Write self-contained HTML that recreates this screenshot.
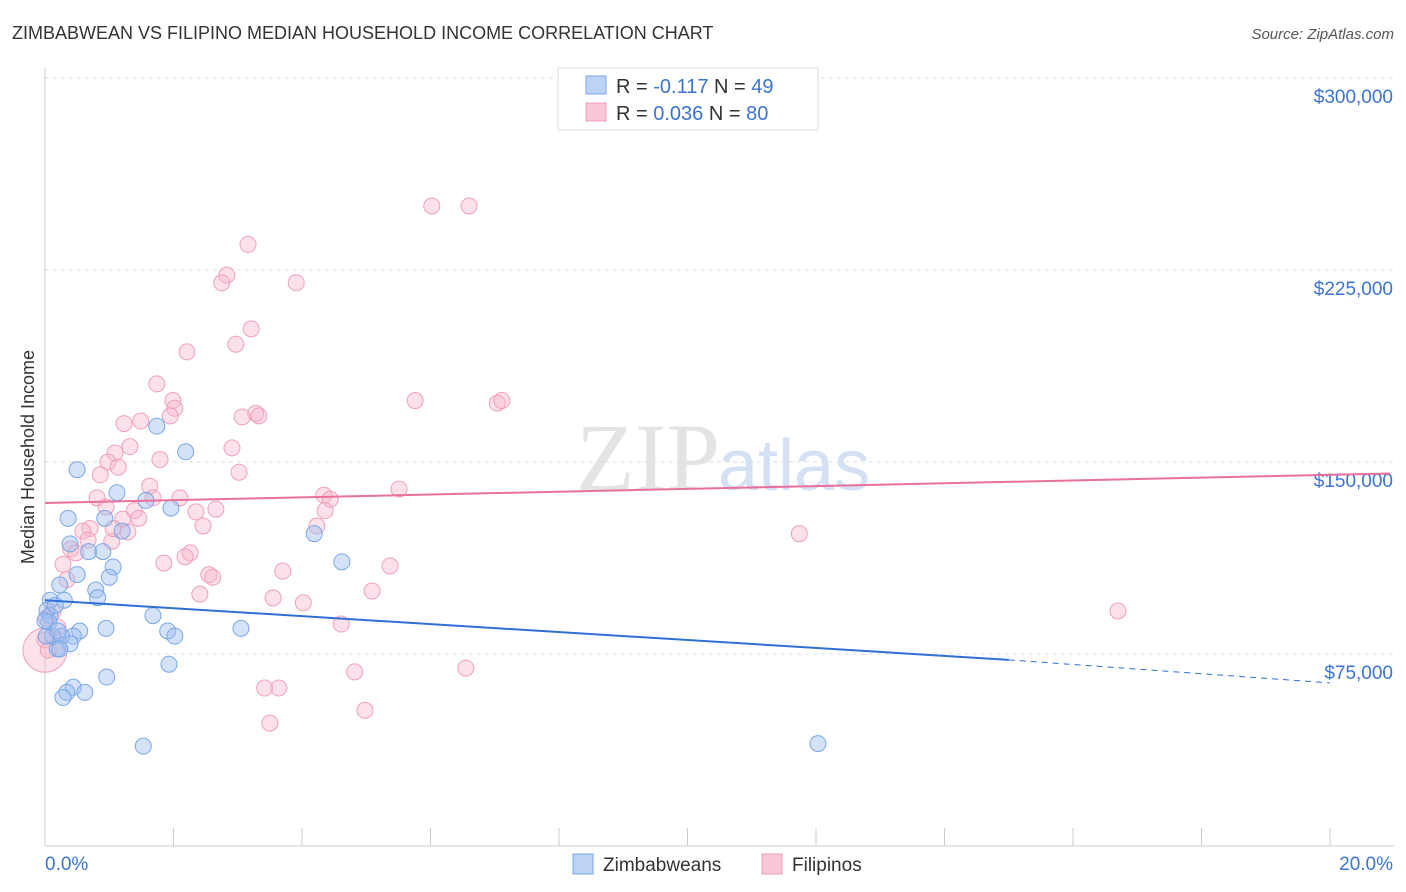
<!DOCTYPE html>
<html><head><meta charset="utf-8"><style>
body{margin:0;background:#fff;font-family:"Liberation Sans",sans-serif}
svg{display:block}
</style></head><body>
<svg id="chart" width="1406" height="892" xmlns="http://www.w3.org/2000/svg">
<text x="12" y="39" font-size="18" fill="#333">ZIMBABWEAN VS FILIPINO MEDIAN HOUSEHOLD INCOME CORRELATION CHART</text>
<text x="1394" y="39" font-size="15" fill="#555" font-style="italic" text-anchor="end">Source: ZipAtlas.com</text>
<text x="720" y="490" font-size="96" fill="#e4e4e4" text-anchor="end" font-family="Liberation Serif">ZIP</text>
<text x="718" y="490" font-size="72" fill="#d4e0f4">atlas</text>
<g id="grid"></g>
<g id="axes"></g>
<g id="points"></g>
<g id="trends"></g>
<text transform="translate(34,457) rotate(-90)" font-size="18" fill="#333" text-anchor="middle">Median Household Income</text>
<g>
<rect x="558" y="68" width="260" height="62" fill="#fff" stroke="#ddd"/>
<rect x="586" y="76" width="20" height="18" fill="#bcd3f5" stroke="#7aa7e8"/>
<rect x="586" y="103" width="20" height="18" fill="#f9c7d6" stroke="#f0a0bb"/>
<text x="616" y="93" font-size="20" fill="#333">R = <tspan fill="#3b74d6">-0.117</tspan>   N = <tspan fill="#3b74d6">49</tspan></text>
<text x="616" y="120" font-size="20" fill="#333">R = <tspan fill="#3b74d6">0.036</tspan>    N = <tspan fill="#3b74d6">80</tspan></text>
</g>
<g>
<rect x="573" y="854" width="20" height="20" fill="#bcd3f5" stroke="#7aa7e8"/>
<text x="603" y="871" font-size="19" fill="#333">Zimbabweans</text>
<rect x="762" y="854" width="20" height="20" fill="#f9c7d6" stroke="#f0a0bb"/>
<text x="792" y="871" font-size="19" fill="#333">Filipinos</text>
</g>
</svg>
<script>
const xTickLabels=["0.0%","20.0%"];
const yTicks=[75000,150000,225000,300000];
const yTickLabels=["$75,000","$150,000","$225,000","$300,000"];
const blueX=[0.50,0.36,0.39,0.68,0.90,1.12,0.93,1.20,1.74,2.19,1.96,1.57,1.06,1.00,0.79,0.82,0.50,0.23,0.08,0.30,0.03,0.08,0.54,0.95,0.44,0.26,0.12,0.02,0.19,0.39,0.23,1.91,2.02,1.68,3.05,4.19,4.62,0.96,1.93,0.44,0.34,0.62,0.28,1.53,12.03,0.16,0.06,0.20,0.0];
const blueY=[147,128,118,115,115,138,128,123,164,154,132,135,109,105,100,97,106,102,96,96,92,90,84,85,82,82,82,82,77,79,77,84,82,90,85,122,111,66,71,62,60,60,58,39,40,94,87.5,84,88];
const pinkX=[6.02,6.60,3.16,2.83,2.75,3.91,3.21,2.97,2.21,1.74,1.99,2.02,1.95,5.76,7.04,7.11,3.28,3.33,3.07,1.49,1.23,2.91,1.32,1.09,0.98,1.14,1.79,3.02,0.86,1.63,5.51,0.81,1.68,2.10,4.34,4.44,2.66,0.95,1.39,2.35,1.21,1.46,4.36,4.23,2.46,0.70,0.59,1.04,0.67,0.40,0.48,1.29,1.06,2.26,2.18,1.85,5.37,3.70,2.55,2.61,0.28,0.34,2.41,5.09,3.55,4.02,11.74,16.70,0.12,0.02,0.20,4.61,4.82,6.55,3.42,3.64,3.50,4.98,0,0.05];
const pinkY=[250,250,235,223,220,220,202,196,193,180.5,174,171,168,174,173,174,169,168,167.6,166,165,155.5,156,153.5,150,148,151,146,145,140.6,139.4,136,136,136,137,135.5,131.6,132.4,131,130.5,127.7,128,131,125,125,124,123,119,119.5,116,114.5,122.7,124,114.5,113,110.5,109.4,107.4,106,105,110,104,98.4,99.6,96.9,95,122,91.8,91.4,89,85.5,86.7,68,69.5,61.7,61.7,48,53,80.5,76.5];
const blueTrend=[96,72.7,63.7]; // at 0%, 15%, 20%
const pinkTrend=[134,145.5]; // at 0%, 20.93%
const X=p=>45+p*64.25;
const Y=v=>846-v/75000*192;
const ns="http://www.w3.org/2000/svg";
function mk(parent,tag,attrs){const e=document.createElementNS(ns,tag);for(const k in attrs)e.setAttribute(k,attrs[k]);document.getElementById(parent).appendChild(e);return e;}
yTicks.forEach((t,i)=>{
 const l=mk('grid','line',{x1:45,x2:1394,y1:Y(t),y2:Y(t),stroke:'#ddd','stroke-dasharray':'4,4'});
 
 
 const tx=mk('grid','text',{x:1393,y:Y(t)+25,'font-size':19,fill:'#3b74d6','text-anchor':'end'});
 tx.textContent=yTickLabels[i];
 
 
});
const tl=mk('grid','line',{x1:45,x2:1394,y1:78,y2:78,stroke:'#ddd','stroke-dasharray':'4,4'});


const xa=mk('axes','line',{x1:45,x2:1394,y1:846,y2:846,stroke:'#ccc'});


const ya=mk('axes','line',{x1:45,x2:45,y1:68,y2:846,stroke:'#ccc'});


for(let i=0;i<=10;i++){
 const t=mk('axes','line',{x1:X(i*2),x2:X(i*2),y1:828,y2:846,stroke:'#ccc'});
 
 
}
[[0,45,'start'],[20,1393,'end']].forEach((d,i)=>{
 const t=mk('axes','text',{x:d[1],y:870,'font-size':19,fill:'#3b74d6','text-anchor':d[2]});
 t.textContent=xTickLabels[i];
 
 
});
const big=mk('points','circle',{cx:X(0),cy:Y(76500),r:22,fill:'rgba(248,180,200,0.4)',stroke:'#f0a0bb'});


pinkX.forEach((x,i)=>{
 const c=mk('points','circle',{cx:X(x),cy:Y(pinkY[i]*1000),r:8,fill:'rgba(248,180,200,0.4)',stroke:'#f0a0bb','stroke-width':1});
 
 
});
blueX.forEach((x,i)=>{
 const c=mk('points','circle',{cx:X(x),cy:Y(blueY[i]*1000),r:8,fill:'rgba(160,190,240,0.45)',stroke:'#7aa7e8','stroke-width':1});
 
 
});
const b1=mk('trends','line',{x1:X(0),y1:Y(blueTrend[0]*1000),x2:X(15),y2:Y(blueTrend[1]*1000),stroke:'#2f6fd6','stroke-width':2});


const b2=mk('trends','line',{x1:X(15),y1:Y(blueTrend[1]*1000),x2:X(20),y2:Y(blueTrend[2]*1000),stroke:'#2f6fd6','stroke-width':1,'stroke-dasharray':'6,5'});


const p1=mk('trends','line',{x1:X(0),y1:Y(pinkTrend[0]*1000),x2:X(20.93),y2:Y(pinkTrend[1]*1000),stroke:'#e8709a','stroke-width':2});


</script>
</body></html>
